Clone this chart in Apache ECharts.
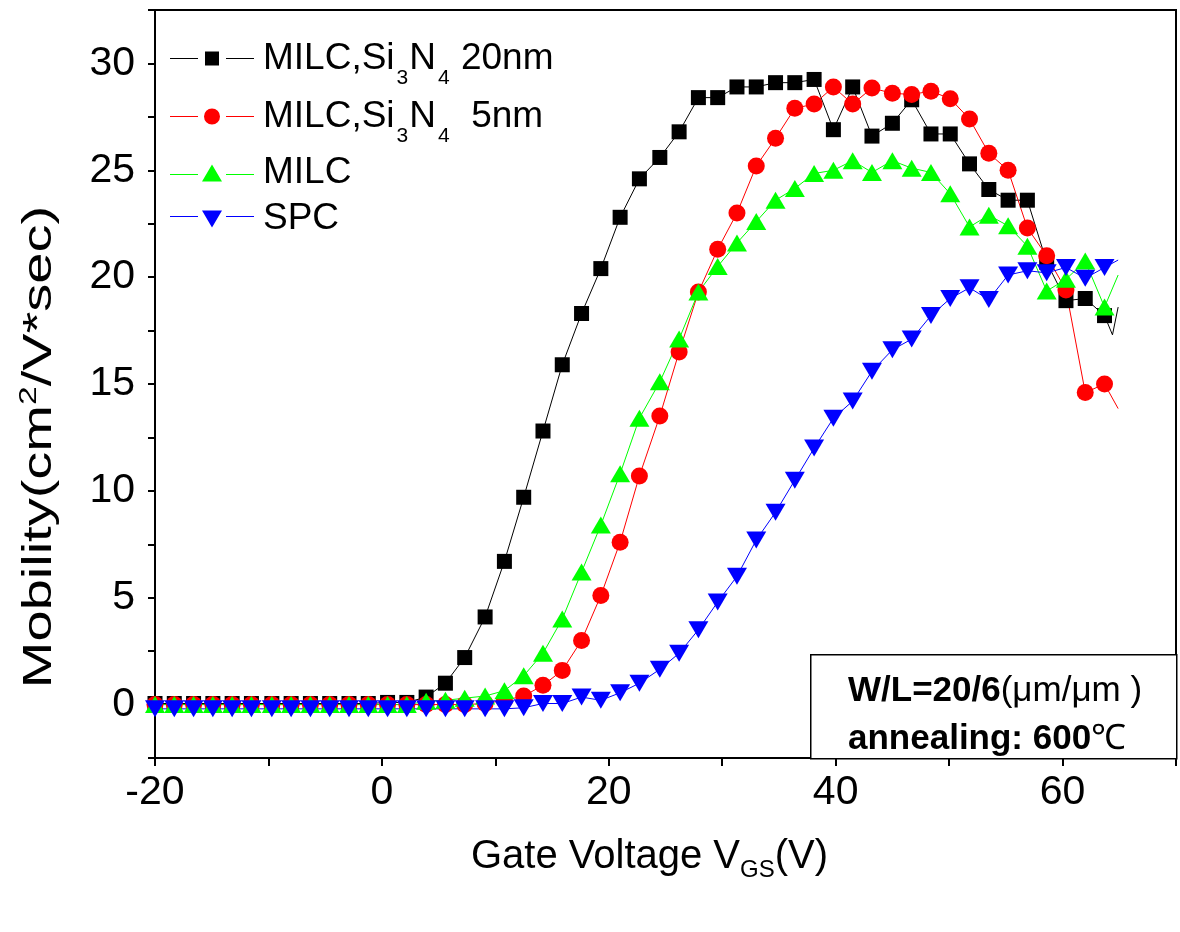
<!DOCTYPE html>
<html><head><meta charset="utf-8">
<script src="https://cdn.jsdelivr.net/npm/echarts@6/dist/echarts.min.js"></script>
<style>html,body{margin:0;padding:0;background:#fff}#c{width:1180px;height:932px}</style>
</head><body><div id="c"></div>
<script>
// Gate voltage sample points (V)
const xs = [-20.0,-18.3,-16.6,-14.9,-13.2,-11.5,-9.7,-8.0,-6.3,-4.6,-2.9,-1.2,0.5,2.2,3.9,5.6,7.3,9.1,10.8,12.5,
  14.2,15.9,17.6,19.3,21.0,22.7,24.5,26.2,27.9,29.6,31.3,33.0,34.7,36.4,38.1,39.8,41.5,43.2,45.0,46.7,
  48.4,50.1,51.8,53.5,55.2,56.9,58.6,60.3,62.0,63.7];
// Mobility values (cm^2/V*sec)
const milc20 = [0.05,0.05,0.05,0.05,0.05,0.05,0.05,0.05,0.05,0.05,0.05,0.05,0.1,0.1,0.35,1.0,2.2,4.1,6.7,9.7,
  12.8,15.9,18.3,20.4,22.8,24.6,25.6,26.8,28.4,28.4,28.9,28.9,29.1,29.1,29.25,26.9,28.9,26.6,27.2,28.3,
  26.7,26.7,25.3,24.1,23.6,23.6,20.7,18.9,19.0,18.2];
const milc20Tail = [[64.4,17.3],[64.9,18.6]];
const milc5 = [0,0,0,0,0,0,0,0,0,0,0,0,0,0,0,0,0,0.05,0.2,0.4,
  0.9,1.6,3.0,5.1,7.6,10.7,13.5,16.5,19.3,21.3,23.0,25.2,26.5,27.9,28.1,28.9,28.1,28.85,28.6,28.55,
  28.7,28.35,27.4,25.8,25.0,22.3,21.0,19.4,14.6,15.0];
const milc5Tail = [[64.9,13.85]];
const milc = [0,0,0,0,0,0,0,0,0,0,0,0,0,0,0.15,0.2,0.3,0.4,0.65,1.35,
  2.4,4.0,6.2,8.4,10.8,13.4,15.1,17.1,19.3,20.5,21.6,22.6,23.6,24.15,24.85,25.0,25.45,24.9,25.45,25.1,
  24.9,23.9,22.35,22.9,22.4,21.45,19.35,19.9,20.75,18.6];
const milcTail = [[64.9,20.1]];
const spc = [-0.2,-0.2,-0.2,-0.2,-0.2,-0.2,-0.2,-0.2,-0.2,-0.2,-0.2,-0.2,-0.2,-0.2,-0.2,-0.2,-0.2,-0.2,-0.2,-0.15,
  0.05,0.05,0.35,0.2,0.55,1.0,1.65,2.4,3.5,4.8,6.0,7.7,9.0,10.5,12.0,13.4,14.2,15.6,16.6,17.1,
  18.2,19.0,19.5,18.95,20.1,20.3,20.2,20.45,19.95,20.45];
const spcTail = [[64.9,20.8]];

const names = ['MILC,Si{s|3}N{s|4} 20nm', 'MILC,Si{s|3}N{s|4}  5nm', 'MILC', 'SPC'];
const colors = ['#000000', '#ff0000', '#00ff00', '#0000ff'];

function build(ys, tail) {
  const d = xs.map((x, i) => [x, ys[i]]);
  tail.forEach(p => d.push({value: p, symbol: 'none'}));
  return d;
}
const FONT = 'Liberation Sans, Arial, sans-serif';
const downTri = 'path://M0,0L20,0L10,18Z';
const upTri = 'path://M10,0L20,18L0,18Z';

// legend icons: line - gap - symbol - gap - line
const iconSquare = 'path://M0,6.5H28V7.5H0Z M35,0H49V14H35Z M56,6.5H84V7.5H56Z';
const iconCircle = 'path://M0,7.5H28V8.5H0Z M34,8A8,8 0 1,0 50,8A8,8 0 1,0 34,8Z M56,7.5H84V8.5H56Z';
const iconUp = 'path://M0,9.5H28V10.5H0Z M42,0L52,17H32Z M56,9.5H84V10.5H56Z';
const iconDown = 'path://M0,5.5H28V6.5H0Z M32,0H52L42,17Z M56,5.5H84V6.5H56Z';

const chart = echarts.init(document.getElementById('c'), null, {renderer: 'canvas'});
const legendBase = {
  orient: 'vertical', left: 170, padding: 0, itemWidth: 84, symbolKeepAspect: false,
  textStyle: {fontFamily: FONT, fontSize: 37, color: '#000', lineHeight: 38, padding: [0, 0, 0, 4],
    rich: {s: {fontFamily: FONT, fontSize: 21, lineHeight: 21, padding: [40, 1, 0, 2]}}},
  formatter: n => n
};
const option = {
  animation: false,
  backgroundColor: '#fff',
  grid: {left: 155, right: 4, top: 10, bottom: 174, show: true, borderColor: '#000', borderWidth: 2},
  legend: [
    Object.assign({}, legendBase, {top: 28, itemHeight: 14, data: [{name: names[0], icon: iconSquare}]}),
    Object.assign({}, legendBase, {top: 86, itemHeight: 16, data: [{name: names[1], icon: iconCircle}]}),
    Object.assign({}, legendBase, {top: 154, itemHeight: 17, data: [{name: names[2], icon: iconUp}]}),
    Object.assign({}, legendBase, {top: 200, itemHeight: 17, data: [{name: names[3], icon: iconDown}]})
  ],
  xAxis: {
    type: 'value', min: -20, max: 70, interval: 10,
    name: 'Gate Voltage V{s|GS}(V)', nameLocation: 'middle', nameGap: 74,
    nameTextStyle: {fontFamily: FONT, fontSize: 40, color: '#000', padding: [0, 32, 0, 0],
      rich: {s: {fontFamily: FONT, fontSize: 24, padding: [26, 0, 0, 0]}}},
    axisLine: {onZero: false, lineStyle: {color: '#000', width: 2}},
    axisTick: {length: 8, lineStyle: {color: '#000', width: 2}},
    axisLabel: {fontFamily: FONT, fontSize: 41, color: '#000', margin: 14,
      formatter: v => (v % 20 === 0 && v < 70) ? String(v) : ''},
    splitLine: {show: false}
  },
  yAxis: {
    type: 'value', min: -2.5, max: 32.5, interval: 2.5,
    axisLine: {onZero: false, lineStyle: {color: '#000', width: 2}},
    axisTick: {length: 7, lineStyle: {color: '#000', width: 2}},
    axisLabel: {fontFamily: FONT, fontSize: 41, color: '#000', margin: 20,
      formatter: v => (v >= 0 && v <= 30 && Math.abs(v % 5) < 1e-6) ? String(v) : ''},
    splitLine: {show: false}
  },
  series: [
    {name: names[0], type: 'line', data: build(milc20, milc20Tail), symbol: 'rect', symbolSize: 15,
     showAllSymbol: true, itemStyle: {color: colors[0]}, lineStyle: {color: colors[0], width: 1}},
    {name: names[1], type: 'line', data: build(milc5, milc5Tail), symbol: 'circle', symbolSize: 17,
     showAllSymbol: true, itemStyle: {color: colors[1]}, lineStyle: {color: colors[1], width: 1}},
    {name: names[2], type: 'line', data: build(milc, milcTail), symbol: upTri, symbolSize: [20, 17],
     showAllSymbol: true, itemStyle: {color: colors[2]}, lineStyle: {color: colors[2], width: 1}},
    {name: names[3], type: 'line', data: build(spc, spcTail), symbol: downTri, symbolSize: [20, 17],
     showAllSymbol: true, itemStyle: {color: colors[3]}, lineStyle: {color: colors[3], width: 1}}
  ],
  graphic: [
    {type: 'text', x: 40, y: 447, rotation: Math.PI / 2, scaleX: 1.4, z: 50,
     style: {text: 'Mobility(cm{p|2}/V*sec)', align: 'center', verticalAlign: 'middle',
       fontFamily: FONT, fontSize: 40, fill: '#000',
       rich: {p: {fontFamily: FONT, fontSize: 24, padding: [0, 0, 22, 0]}}}},
    {type: 'rect', left: 810, top: 654, z: 100,
     shape: {width: 366, height: 104}, style: {fill: '#fff', stroke: '#000', lineWidth: 1.5}},
    {type: 'text', left: 848, top: 674, z: 101,
     style: {text: '{b|W/L=20/6}{n|(μm/μm )}', rich: {
       b: {fontFamily: FONT, fontSize: 35, fontWeight: 'bold', fill: '#000'},
       n: {fontFamily: FONT, fontSize: 35, fill: '#000'}}}},
    {type: 'text', left: 848, top: 722, z: 101,
     style: {text: '{b|annealing: 600}{n|℃}', rich: {
       b: {fontFamily: FONT, fontSize: 35, fontWeight: 'bold', fill: '#000'},
       n: {fontFamily: FONT, fontSize: 35, fill: '#000'}}}}
  ]
};
chart.setOption(option);
</script></body></html>
